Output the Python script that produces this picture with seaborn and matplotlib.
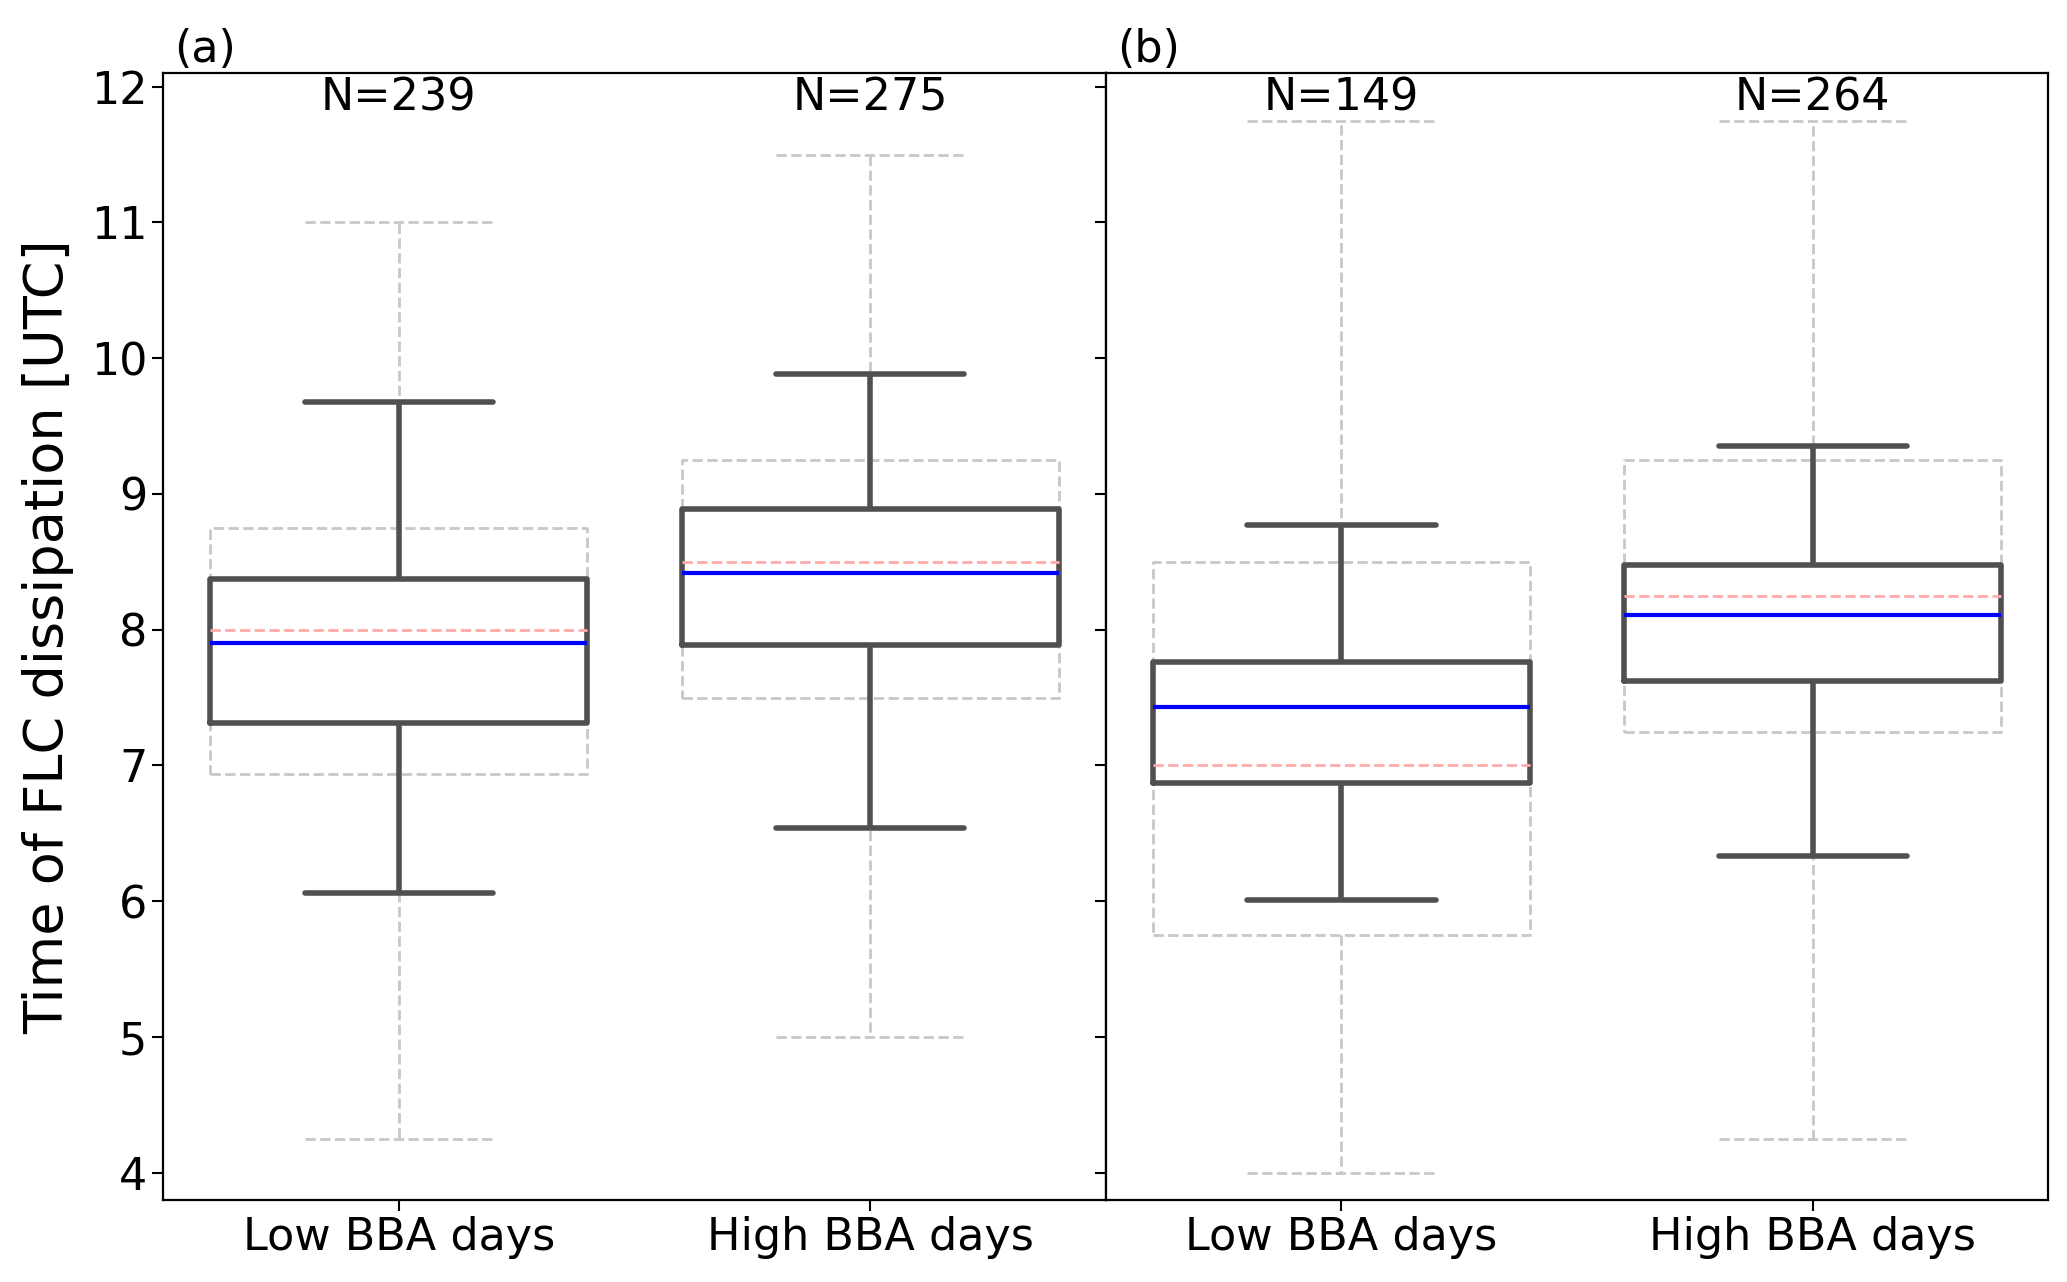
import numpy as np
import pandas as pd
import matplotlib
matplotlib.use("Agg")
import matplotlib.pyplot as plt
import seaborn as sns

# Box summaries: [min/lower whisker, Q1, median, Q3, max/upper whisker]
categories = ["Low BBA days", "High BBA days"]
panel_labels = ["(a)", "(b)"]
sample_sizes = [[239, 275], [149, 264]]

# dark boxes (blue median)
main_a_low = [6.06, 7.31, 7.90, 8.37, 9.68]
main_a_high = [6.54, 7.89, 8.42, 8.89, 9.88]
main_b_low = [6.01, 6.87, 7.43, 7.76, 8.77]
main_b_high = [6.33, 7.62, 8.11, 8.48, 9.35]

# light dashed reference boxes (red median)
ref_a_low = [4.25, 6.94, 8.00, 8.75, 11.00]
ref_a_high = [5.00, 7.50, 8.50, 9.25, 11.50]
ref_b_low = [4.00, 5.75, 7.00, 8.50, 11.75]
ref_b_high = [4.25, 7.25, 8.25, 9.25, 11.75]

main_boxes = [[main_a_low, main_a_high], [main_b_low, main_b_high]]
ref_boxes = [[ref_a_low, ref_a_high], [ref_b_low, ref_b_high]]


def to_frame(pair):
    rows = []
    for cat, vals in zip(categories, pair):
        for v in vals:
            rows.append({"group": cat, "value": v})
    return pd.DataFrame(rows)


sns.set_style("ticks")
plt.rcParams["font.family"] = ["DejaVu Sans"]
plt.rcParams["text.color"] = "black"
plt.rcParams["xtick.color"] = "black"
plt.rcParams["ytick.color"] = "black"
plt.rcParams["axes.labelcolor"] = "black"

fig, axes = plt.subplots(1, 2, figsize=(20.67, 12.82), dpi=100, sharey=True)
fig.subplots_adjust(left=0.079, right=0.991, top=0.943, bottom=0.064, wspace=0)

dark = "#505050"
light = "#c8c8c8"

for k, ax in enumerate(axes):
    ref_df = to_frame(ref_boxes[k])
    main_df = to_frame(main_boxes[k])

    sns.boxplot(data=ref_df, x="group", y="value", order=categories, ax=ax,
                whis=(0, 100), width=0.8, fill=False, color=light,
                showfliers=False, linewidth=2.0,
                boxprops=dict(linestyle="--", color=light),
                whiskerprops=dict(linestyle="--", color=light),
                capprops=dict(linestyle="--", color=light),
                medianprops=dict(linestyle="--", color="#ffaaaa", linewidth=2.0))

    sns.boxplot(data=main_df, x="group", y="value", order=categories, ax=ax,
                whis=(0, 100), width=0.8, fill=False, color=dark,
                showfliers=False, linewidth=4.0,
                boxprops=dict(color=dark),
                whiskerprops=dict(color=dark),
                capprops=dict(color=dark),
                medianprops=dict(color="blue", linewidth=3.0))

    for i, n in enumerate(sample_sizes[k]):
        ax.text(i, 11.92, f"N={n}", ha="center", va="center", fontsize=32)

    ax.text(0.012, 1.002, panel_labels[k], transform=ax.transAxes,
            ha="left", va="bottom", fontsize=32)

    ax.set_xlim(-0.5, 1.5)
    ax.set_ylim(3.8, 12.1)
    ax.set_yticks(np.arange(4, 13, 1))
    ax.set_xlabel("")
    ax.set_ylabel("")
    ax.tick_params(axis="both", labelsize=32, length=8, width=1.5, direction="out")
    for sp in ax.spines.values():
        sp.set_color("black")
        sp.set_linewidth(1.6)

axes[0].set_ylabel("Time of FLC dissipation [UTC]", fontsize=39, labelpad=12)
axes[1].tick_params(axis="y", labelleft=False)

fig.savefig("out.png", dpi=100)
